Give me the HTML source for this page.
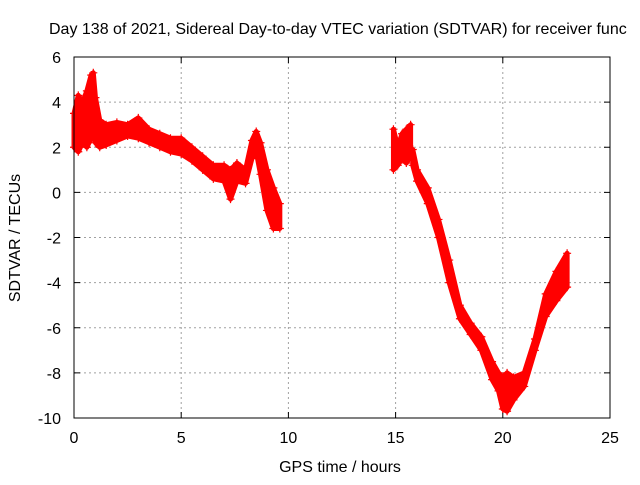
<!DOCTYPE html>
<html><head><meta charset="utf-8"><style>
body{margin:0;background:#fff}
svg text{font-family:"Liberation Sans",sans-serif;font-size:16px;fill:#000}
</style></head><body>
<svg id="chart" width="640" height="480">
<rect width="640" height="480" fill="#fff"/>
<text x="49" y="34">Day 138 of 2021, Sidereal Day-to-day VTEC variation (SDTVAR) for receiver func</text>
<g id="grid"></g><g id="ticks"></g><g id="series"></g>
<rect x="74" y="57" width="536" height="361" fill="none" stroke="#000" stroke-width="1"/>
<text x="340" y="472" text-anchor="middle">GPS time / hours</text>
<text transform="translate(20,238) rotate(-90)" text-anchor="middle">SDTVAR / TECUs</text>
</svg>
<script>
const xTicks=[0,5,10,15,20,25];
const yTicks=[-10,-8,-6,-4,-2,0,2,4,6];
const seg1T=[0,0.2,0.4,0.6,0.8,0.9,1.0,1.2,1.5,2,2.5,3,3.5,4,4.5,5,5.5,6,6.5,7,7.3,7.6,8,8.3,8.5,8.7,9,9.3,9.6];
const seg1Hi=[3.5,4.3,4.0,4.5,5.2,5.3,4.2,3.2,3.0,3.1,3.0,3.3,2.8,2.6,2.4,2.4,2.0,1.6,1.2,1.2,1.0,1.3,1.0,2.3,2.7,2.2,1.0,0.2,-0.5];
const seg1Lo=[2.0,1.8,2.2,2.0,2.4,2.5,2.2,2.0,2.1,2.3,2.5,2.4,2.2,2.0,1.8,1.7,1.4,1.0,0.6,0.5,-0.3,0.5,0.4,1.5,1.8,0.8,-0.8,-1.6,-1.6];
const seg2T=[14.9,15.1,15.3,15.5,15.7];
const seg2Hi=[2.8,2.0,2.6,2.8,3.0];
const seg2Lo=[1.0,1.2,1.5,1.3,1.6];
const seg3T=[15.8,16,16.5,17,17.5,18,18.5,19,19.5,19.8,20,20.2,20.5,21,21.5,22,22.5,23];
const seg3Hi=[1.9,1.0,0.2,-1.2,-3,-5,-5.8,-6.4,-7.5,-8.0,-8.2,-8.0,-8.2,-8.0,-6.5,-4.5,-3.5,-2.7];
const seg3Lo=[1.2,0.5,-0.5,-2,-4,-5.6,-6.3,-7,-8.3,-8.8,-9.6,-9.7,-9.2,-8.6,-7,-5.5,-4.8,-4.2];
const NS="http://www.w3.org/2000/svg";
const X0=74,X1=610,Y0=418,Y1=57;
const xs=v=>X0+(v-0)/25*(X1-X0);
const ys=v=>Y0-(v+10)/16*(Y0-Y1);
function mk(tag,attrs,parent){const e=document.createElementNS(NS,tag);for(const k in attrs)e.setAttribute(k,attrs[k]);parent.appendChild(e);return e;}
const grid=document.getElementById('grid'),ticks=document.getElementById('ticks'),ser=document.getElementById('series');
xTicks.forEach(t=>{const x=xs(t);
 if(t>0&&t<25){const l=mk('line',{x1:x,x2:x,y1:Y1,y2:Y0,stroke:'#a0a0a0','stroke-dasharray':'2,3'},grid);
 
 }
 mk('line',{x1:x,x2:x,y1:Y0,y2:Y0-6,stroke:'#000'},ticks);
 mk('line',{x1:x,x2:x,y1:Y1,y2:Y1+6,stroke:'#000'},ticks);
 const tx=mk('text',{x:x,y:Y0+25,'text-anchor':'middle'},ticks);tx.textContent=t;
 
 
});
yTicks.forEach(t=>{const y=ys(t);
 if(t>-10&&t<6){const l=mk('line',{x1:X0,x2:X1,y1:y,y2:y,stroke:'#a0a0a0','stroke-dasharray':'2,3'},grid);
 
 }
 mk('line',{x1:X0,x2:X0+6,y1:y,y2:y,stroke:'#000'},ticks);
 mk('line',{x1:X1,x2:X1-6,y1:y,y2:y,stroke:'#000'},ticks);
 const tx=mk('text',{x:X0-13,y:y+6,'text-anchor':'end'},ticks);tx.textContent=t;
 
 
});
function band(T,H,L,name){
 const g=mk('g',{},ser);
 
 
 let pts=T.map((t,i)=>xs(t)+','+ys(H[i]));
 pts=pts.concat(T.map((t,i)=>xs(t)+','+ys(L[i])).reverse());
 mk('polygon',{points:pts.join(' '),fill:'#ff0000',stroke:'#ff0000','stroke-width':5,'stroke-linejoin':'round'},g);
 let d='';
 T.forEach((t,i)=>{[H[i],L[i]].forEach(v=>{const x=xs(t),y=ys(v);d+=`M${x-4},${y}h8M${x},${y-4}v8`;});});
 mk('path',{d:d,stroke:'#ff0000','stroke-width':1.2},g);
}
band(seg1T,seg1Hi,seg1Lo,'series-segment-1');
band(seg2T,seg2Hi,seg2Lo,'series-segment-2');
band(seg3T,seg3Hi,seg3Lo,'series-segment-3');
</script>
</body></html>
